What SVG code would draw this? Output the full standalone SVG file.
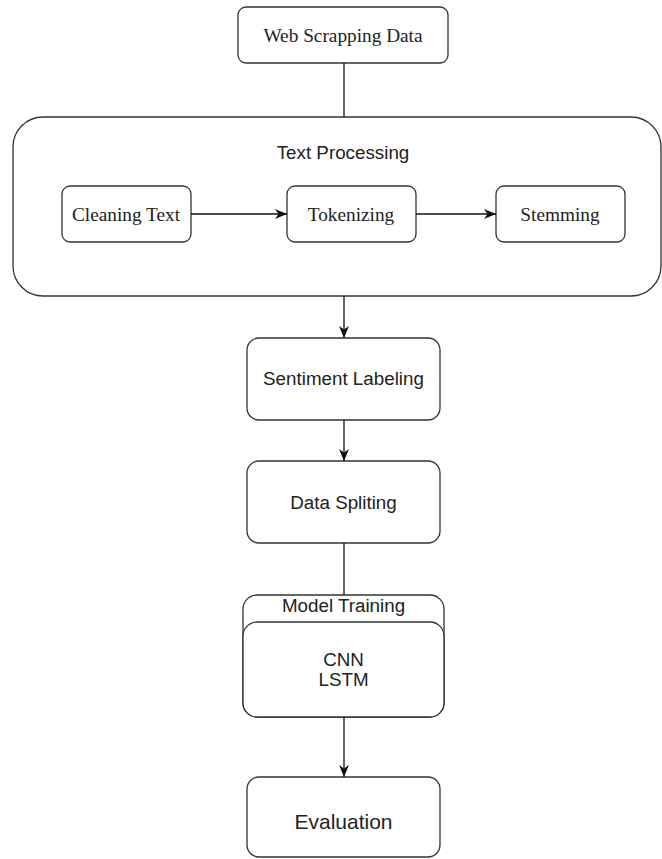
<svg xmlns="http://www.w3.org/2000/svg" width="662" height="859" viewBox="0 0 662 859">
<style>
.box{fill:#fff;stroke:#333;stroke-width:1.3}
.ln{fill:none;stroke:#111;stroke-width:1.3}
.serif{font-family:"Liberation Serif","Times New Roman",serif;font-size:19.3px;fill:#222;text-anchor:middle;dominant-baseline:central}
.sans{font-family:"Liberation Sans",Arial,sans-serif;font-size:18.8px;fill:#222;text-anchor:middle;dominant-baseline:central}
</style>
<defs>
<marker id="arr" viewBox="0 0 12 10" refX="12" refY="5" markerWidth="12" markerHeight="10" markerUnits="userSpaceOnUse" orient="auto">
<path d="M0,0 L12,5 L0,10 L3.5,5 Z" fill="#111"/>
</marker>
</defs>
<g id="web-scrapping">
<rect class="box" x="238" y="7" width="210" height="56" rx="8"/>
<text class="serif" x="343" y="35">Web Scrapping Data</text>
</g>
<g id="text-processing">
<rect class="box" x="13" y="117" width="648" height="179" rx="30"/>
<text class="sans" x="343" y="152">Text Processing</text>
</g>
<g id="cleaning-text">
<rect class="box" x="62" y="186" width="129" height="56" rx="8"/>
<text class="serif" x="126" y="214">Cleaning Text</text>
</g>
<g id="tokenizing">
<rect class="box" x="287" y="186" width="129" height="56" rx="8"/>
<text class="serif" x="351" y="214">Tokenizing</text>
</g>
<g id="stemming">
<rect class="box" x="496" y="186" width="129" height="56" rx="8"/>
<text class="serif" x="560" y="214">Stemming</text>
</g>
<g id="sentiment-labeling">
<rect class="box" x="247" y="338" width="193" height="82" rx="12"/>
<text class="sans" x="343.5" y="378">Sentiment Labeling</text>
</g>
<g id="data-spliting">
<rect class="box" x="247" y="461" width="193" height="82" rx="12"/>
<text class="sans" x="343.5" y="502">Data Spliting</text>
</g>
<g id="model-training">
<rect class="box" x="243" y="595" width="201" height="122" rx="14"/>
<text class="sans" x="343.5" y="605">Model Training</text>
<rect class="box" x="243" y="622" width="201" height="95" rx="14"/>
<text class="sans" x="343.5" y="659">CNN</text>
<text class="sans" x="343.5" y="679">LSTM</text>
</g>
<g id="evaluation">
<rect class="box" x="247" y="777" width="193" height="80" rx="12"/>
<text class="sans" x="343.5" y="821" style="font-size:21px">Evaluation</text>
</g>
<g id="connectors">
<line class="ln" x1="344" y1="63" x2="344" y2="117"/>
<line class="ln" x1="191" y1="214" x2="287" y2="214" marker-end="url(#arr)"/>
<line class="ln" x1="416" y1="214" x2="496" y2="214" marker-end="url(#arr)"/>
<line class="ln" x1="344" y1="296" x2="344" y2="338" marker-end="url(#arr)"/>
<line class="ln" x1="344" y1="420" x2="344" y2="461" marker-end="url(#arr)"/>
<line class="ln" x1="344" y1="543" x2="344" y2="595"/>
<line class="ln" x1="344" y1="717" x2="344" y2="777" marker-end="url(#arr)"/>
</g>
</svg>
